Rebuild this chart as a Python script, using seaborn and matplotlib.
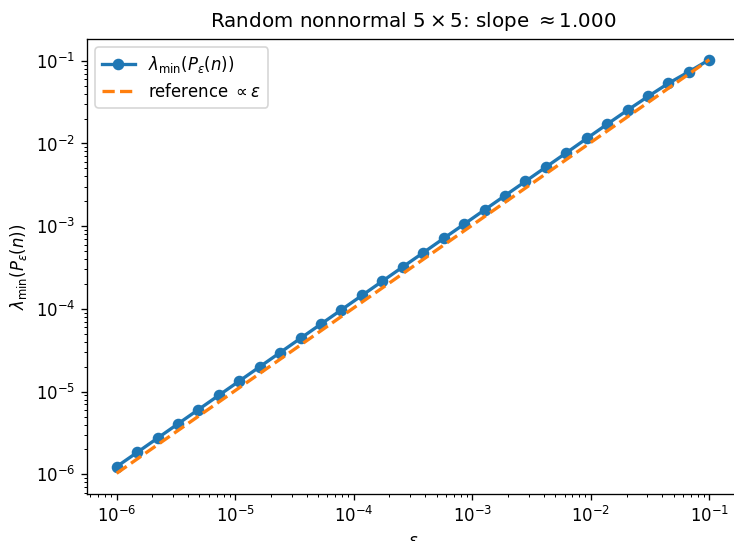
import numpy as np
import pandas as pd
import matplotlib
matplotlib.use("Agg")
import matplotlib.pyplot as plt
import seaborn as sns

eps = [1.000e-6, 1.487e-6, 2.212e-6, 3.290e-6, 4.894e-6, 7.279e-6,
       1.083e-5, 1.610e-5, 2.395e-5, 3.562e-5, 5.298e-5, 7.880e-5,
       1.172e-4, 1.743e-4, 2.593e-4, 3.857e-4, 5.736e-4, 8.532e-4,
       1.269e-3, 1.887e-3, 2.807e-3, 4.175e-3, 6.210e-3, 9.237e-3,
       1.374e-2, 2.043e-2, 3.039e-2, 4.520e-2, 6.723e-2, 1.000e-1]

lam_min = [1.24e-6, 1.84e-6, 2.74e-6, 4.08e-6, 6.07e-6, 9.03e-6,
           1.343e-5, 1.997e-5, 2.97e-5, 4.42e-5, 6.57e-5, 9.77e-5,
           1.454e-4, 2.162e-4, 3.22e-4, 4.78e-4, 7.12e-4, 1.058e-3,
           1.574e-3, 2.341e-3, 3.48e-3, 5.18e-3, 7.70e-3, 1.150e-2,
           1.71e-2, 2.53e-2, 3.70e-2, 5.34e-2, 7.37e-2, 1.03e-1]

ref_coef = 1.03  # reference line = ref_coef * eps
reference = [ref_coef * e for e in eps]

df = pd.DataFrame({"eps": eps, "lam": lam_min, "ref": reference})

dpi = 119
fig = plt.figure(figsize=(734 / dpi, 541 / dpi), dpi=dpi)
ax = fig.add_axes([87 / 734, 47 / 541, (739 - 87) / 734, (494 - 39) / 541])

sns.lineplot(data=df, x="eps", y="lam", ax=ax, color="C0", marker="o",
             markersize=6, markeredgecolor="C0", markeredgewidth=1.0,
             linewidth=2.0, label=r"$\lambda_{\min}(P_\varepsilon(n))$")
sns.lineplot(data=df, x="eps", y="ref", ax=ax, color="C1", linestyle="--",
             linewidth=2.0, label=r"reference $\propto \varepsilon$")

ax.set_xscale("log")
ax.set_yscale("log")
ax.set_xlabel(r"$\varepsilon$")
ax.set_ylabel(r"$\lambda_{\min}(P_\varepsilon(n))$")
ax.set_title(r"Random nonnormal $5 \times 5$: slope $\approx 1.000$", pad=7)
ax.legend(loc="upper left")

fig.savefig("out.png", dpi=dpi)
